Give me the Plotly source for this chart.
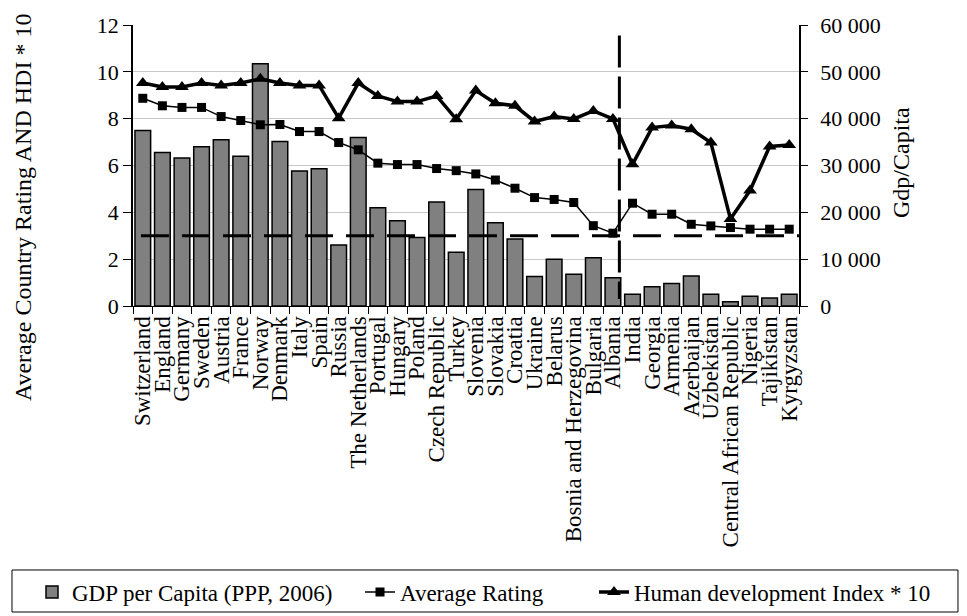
import plotly.graph_objects as go

countries = ["Switzerland", "England", "Germany", "Sweden", "Austria", "France", "Norway",
             "Denmark", "Italy", "Spain", "Russia", "The Netherlands", "Portugal", "Hungary",
             "Poland", "Czech Republic", "Turkey", "Slovenia", "Slovakia", "Croatia", "Ukraine",
             "Belarus", "Bosnia and Herzegovina", "Bulgaria", "Albania", "India", "Georgia",
             "Armenia", "Azerbaijan", "Uzbekistan", "Central African Republic", "Nigeria",
             "Tajikistan", "Kyrgyzstan"]

gdp = [37500, 32800, 31600, 34000, 35500, 32000, 51700, 35100, 28800, 29300, 13000,
       36000, 21000, 18200, 14600, 22200, 11500, 24900, 17800, 14300, 6300, 10000,
       6800, 10300, 6050, 2500, 4100, 4800, 6400, 2500, 900, 2100, 1700, 2500]

avg_rating = [8.87, 8.55, 8.48, 8.48, 8.09, 7.92, 7.74, 7.75, 7.45, 7.45, 6.98,
              6.67, 6.10, 6.04, 6.04, 5.87, 5.78, 5.64, 5.38, 5.03, 4.63, 4.55,
              4.42, 3.43, 3.11, 4.39, 3.92, 3.92, 3.49, 3.42, 3.35, 3.28, 3.28, 3.28]

hdi10 = [9.52, 9.35, 9.35, 9.52, 9.42, 9.52, 9.70, 9.52, 9.42, 9.42, 8.02,
         9.52, 8.97, 8.73, 8.73, 8.97, 7.98, 9.20, 8.66, 8.55, 7.88, 8.09,
         7.99, 8.33, 7.99, 6.05, 7.62, 7.71, 7.55, 6.98, 3.72, 4.93, 6.81, 6.88]

threshold = 3
split_position = 24.33  # between Albania and India

left_ticks = [0, 2, 4, 6, 8, 10, 12]
right_ticks = [0, 10000, 20000, 30000, 40000, 50000, 60000]
right_ticktext = ["0", "10 000", "20 000", "30 000", "40 000", "50 000", "60 000"]

FONT = "Liberation Serif, Times New Roman, serif"

fig = go.Figure()

fig.add_trace(go.Bar(
    x=countries, y=gdp, name="GDP per Capita (PPP, 2006)",
    marker=dict(color="#808080", line=dict(color="black", width=1.5)),
    width=0.8, yaxis="y", legend="legend",
))
fig.add_trace(go.Scatter(
    x=countries, y=avg_rating, name="Average Rating", mode="lines+markers",
    line=dict(color="black", width=1.5),
    marker=dict(symbol="square", size=9, color="black"),
    yaxis="y2", legend="legend2",
))
fig.add_trace(go.Scatter(
    x=countries, y=hdi10, name="Human development Index * 10", mode="lines+markers",
    line=dict(color="black", width=3.5),
    marker=dict(symbol="triangle-up", size=12, color="black"),
    yaxis="y2", legend="legend3",
))

fig.add_shape(type="line", xref="x domain", yref="y2", x0=0.012, x1=1, y0=threshold, y1=threshold,
              line=dict(color="black", width=3, dash="28px,13px"), layer="above")
fig.add_shape(type="line", xref="x", yref="y2", x0=split_position, x1=split_position, y0=11.55, y1=0.3,
              line=dict(color="black", width=3, dash="32px,9px"), layer="above")

# legend frame
fig.add_shape(type="rect", xref="paper", yref="paper", x0=-0.1817, x1=1.2387, y0=-0.9395, y1=-1.089,
              line=dict(color="black", width=1), fillcolor="rgba(0,0,0,0)", layer="below")

legend_common = dict(orientation="h", xref="container", yref="container", y=0.039,
                     yanchor="middle", xanchor="left",
                     font=dict(family=FONT, size=23, color="black"),
                     bgcolor="rgba(0,0,0,0)", borderwidth=0)

fig.update_layout(
    width=967, height=616,
    margin=dict(l=133, r=168, t=25, b=310),
    paper_bgcolor="white", plot_bgcolor="white",
    font=dict(family=FONT, size=22, color="black"),
    showlegend=True,
    legend=dict(x=32 / 967, **legend_common),
    legend2=dict(x=360 / 967, **legend_common),
    legend3=dict(x=594 / 967, **legend_common),
    bargap=0.2,
    xaxis=dict(
        type="category", tickmode="array", tickvals=countries, ticktext=countries,
        tickangle=-90, ticks="outside", tickson="boundaries", ticklen=7,
        tickcolor="black", showline=True, linecolor="black", linewidth=1,
        tickfont=dict(family=FONT, size=23), showgrid=False, automargin=False,
        range=[-0.5, len(countries) - 0.5],
    ),
    yaxis=dict(
        side="right", range=[0, 60000], tickvals=right_ticks, ticktext=right_ticktext,
        ticks="outside", ticklen=7, tickcolor="black", showline=True, linecolor="black",
        linewidth=1.5, showgrid=True, gridcolor="#c8c8c8", gridwidth=1,
        tickfont=dict(family=FONT, size=22), zeroline=False, automargin=False,
        ticklabelstandoff=8,
    ),
    yaxis2=dict(
        side="left", overlaying="y", range=[0, 12], tickvals=left_ticks,
        ticks="outside", ticklen=8, tickcolor="black", showline=True, linecolor="black",
        linewidth=1.5, showgrid=False, zeroline=False,
        tickfont=dict(family=FONT, size=22), automargin=False,
    ),
    yaxis3=dict(
        side="right", overlaying="y", range=[0, 60000], tickvals=right_ticks,
        ticks="inside", ticklen=7, tickcolor="black", showticklabels=False,
        showline=False, showgrid=False, zeroline=False, anchor="x",
    ),
    annotations=[
        dict(text="Average Country Rating AND HDI * 10", xref="paper", yref="paper",
             x=(23 - 133) / 666, y=0.352, textangle=-90, showarrow=False,
             font=dict(family=FONT, size=24, color="black"), xanchor="center", yanchor="middle"),
        dict(text="Gdp/Capita", xref="paper", yref="paper",
             x=(901 - 133) / 666, y=0.509, textangle=-90, showarrow=False,
             font=dict(family=FONT, size=24, color="black"), xanchor="center", yanchor="middle"),
    ],
)

fig.write_html("out.html", config={"displayModeBar": False},
               post_script="document.body.style.margin='0';")
